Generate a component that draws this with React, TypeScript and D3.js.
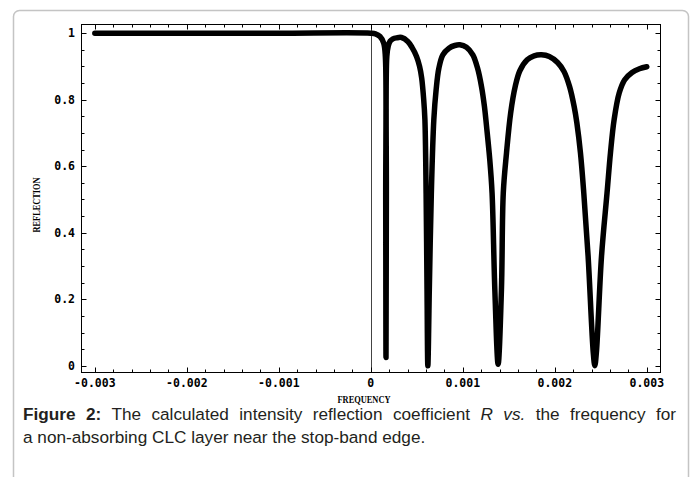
import React, { useEffect, useRef } from 'react';
import * as d3 from 'd3';

// frequency and intensity reflection coefficient
const freq = [
  -0.003, -0.002, -0.001, 0, 0.00005, 0.0001, 0.00014, 0.000158, 0.000162, 0.000165,
  0.000169, 0.000174, 0.00019, 0.00021, 0.00024, 0.00028, 0.000334, 0.000402, 0.000446,
  0.000497, 0.00053, 0.000553, 0.000575, 0.000588, 0.000601, 0.000611, 0.00062,
  0.000636, 0.000658, 0.000685, 0.00071, 0.00074, 0.000783, 0.00085, 0.000913, 0.000967,
  0.00104, 0.001109, 0.00116, 0.001203, 0.001235, 0.001258, 0.001293, 0.001318,
  0.001348, 0.001384, 0.00142, 0.00144, 0.001475, 0.00152, 0.00157, 0.00162, 0.0017,
  0.001775, 0.001855, 0.00194, 0.00203, 0.0021, 0.00216, 0.00221, 0.00224, 0.002279,
  0.002315, 0.002362, 0.002418, 0.002435, 0.002452, 0.002508, 0.002568, 0.002605,
  0.002645, 0.0027, 0.00276, 0.00284, 0.00292, 0.003,
];
const reflection = [
  1.0, 1.0, 1.0, 1.0, 0.998, 0.99, 0.97, 0.93, 0.5, 0.025,
  0.5, 0.93, 0.962, 0.976, 0.983, 0.986, 0.987, 0.975, 0.958,
  0.93, 0.9, 0.865, 0.8, 0.74, 0.52, 0.23, 0.0,
  0.23, 0.52, 0.74, 0.83, 0.895, 0.935, 0.955, 0.963, 0.965,
  0.958, 0.935, 0.895, 0.84, 0.78, 0.72, 0.62, 0.52,
  0.23, 0.005, 0.23, 0.52, 0.64, 0.76, 0.84, 0.887, 0.92,
  0.932, 0.935, 0.93, 0.912, 0.885, 0.84, 0.78, 0.73, 0.64,
  0.52, 0.33, 0.04, 0.0, 0.04, 0.33, 0.52, 0.64,
  0.74, 0.82, 0.86, 0.882, 0.893, 0.899,
];

const xTicks = [-0.003, -0.002, -0.001, 0, 0.001, 0.002, 0.003];
const xTickLabels = ['-0.003', '-0.002', '-0.001', '0', '0.001', '0.002', '0.003'];
const yTicks = [0, 0.2, 0.4, 0.6, 0.8, 1];
const yTickLabels = ['0', '0.2', '0.4', '0.6', '0.8', '1'];

export default function App() {
  const svgRef = useRef<SVGSVGElement | null>(null);

  useEffect(() => {
    if (!svgRef.current) return;
    const width = 695;
    const height = 477;
    const frame = { left: 81.5, right: 660.5, top: 24.5, bottom: 372.5 };

    const svg = d3.select(svgRef.current);
    svg.selectAll('*').remove();
    svg.attr('width', width).attr('height', height);

    svg.append('rect').attr('width', width).attr('height', height).attr('fill', '#fff');

    // card border
    svg.append('rect')
      .attr('x', 13.5).attr('y', 10.5)
      .attr('width', 675).attr('height', 520)
      .attr('rx', 6)
      .attr('fill', 'none')
      .attr('stroke', '#c4c4c4')
      .attr('stroke-width', 1.5);

    const x = d3.scaleLinear().domain([-0.003145, 0.003149]).range([frame.left, frame.right]);
    const y = d3.scaleLinear().domain([-0.0201, 1.0261]).range([frame.bottom, frame.top]);

    const g = svg.append('g');

    // zero line
    g.append('line')
      .attr('x1', Math.round(x(0)) + 0.5).attr('x2', Math.round(x(0)) + 0.5)
      .attr('y1', frame.top).attr('y2', frame.bottom)
      .attr('stroke', '#444').attr('stroke-width', 1);

    // frame
    g.append('rect')
      .attr('x', frame.left).attr('y', frame.top)
      .attr('width', frame.right - frame.left).attr('height', frame.bottom - frame.top)
      .attr('fill', 'none').attr('stroke', '#000').attr('stroke-width', 1);

    // ticks on all four sides, pointing inward
    const xMinor = d3.range(-15, 16).map(i => i * 0.0002);
    xMinor.forEach((v, i) => {
      const major = i % 5 === 0;
      const len = major ? 5 : 3;
      const px = Math.round(x(v)) + 0.5;
      g.append('line').attr('x1', px).attr('x2', px)
        .attr('y1', frame.bottom).attr('y2', frame.bottom - len)
        .attr('stroke', '#000');
      g.append('line').attr('x1', px).attr('x2', px)
        .attr('y1', frame.top).attr('y2', frame.top + len)
        .attr('stroke', '#000');
    });
    const yMinor = d3.range(0, 21).map(i => i * 0.05);
    yMinor.forEach((v, i) => {
      const major = i % 4 === 0;
      const len = major ? 5 : 3;
      const py = Math.round(y(v)) + 0.5;
      g.append('line').attr('x1', frame.left).attr('x2', frame.left + len)
        .attr('y1', py).attr('y2', py).attr('stroke', '#000');
      g.append('line').attr('x1', frame.right).attr('x2', frame.right - len)
        .attr('y1', py).attr('y2', py).attr('stroke', '#000');
    });

    // tick labels
    const tickFont = 'DejaVu Sans Mono, monospace';
    xTicks.forEach((v, i) => {
      g.append('text')
        .attr('x', x(v)).attr('y', 387)
        .attr('text-anchor', 'middle')
        .attr('font-family', tickFont).attr('font-size', 11.5).attr('font-weight', 'bold')
        .text(xTickLabels[i]);
    });
    yTicks.forEach((v, i) => {
      g.append('text')
        .attr('x', 75).attr('y', y(v) + 4)
        .attr('text-anchor', 'end')
        .attr('font-family', tickFont).attr('font-size', 11.5).attr('font-weight', 'bold')
        .text(yTickLabels[i]);
    });

    // axis labels
    g.append('text')
      .attr('x', 364).attr('y', 403)
      .attr('text-anchor', 'middle')
      .attr('font-family', 'Liberation Serif, serif').attr('font-size', 10).attr('font-weight', 'bold')
      .attr('textLength', 53).attr('lengthAdjust', 'spacingAndGlyphs')
      .text('FREQUENCY');
    g.append('text')
      .attr('transform', 'translate(40,205) rotate(-90)')
      .attr('text-anchor', 'middle')
      .attr('font-family', 'Liberation Serif, serif').attr('font-size', 10).attr('font-weight', 'bold')
      .attr('textLength', 55).attr('lengthAdjust', 'spacingAndGlyphs')
      .text('REFLECTION');

    // curve
    const pts: [number, number][] = freq.map((f, i) => [f, reflection[i]]);
    const line = d3.line<[number, number]>()
      .x(d => x(d[0]))
      .y(d => y(d[1]))
      .curve(d3.curveCatmullRom.alpha(0.5));
    g.append('path')
      .attr('d', line(pts))
      .attr('fill', 'none')
      .attr('stroke', '#000')
      .attr('stroke-width', 5.5)
      .attr('stroke-linejoin', 'round')
      .attr('stroke-linecap', 'round');

    // caption (first line justified to the card width)
    const cap = svg.append('text')
      .attr('font-family', 'Liberation Sans, Arial, sans-serif')
      .attr('font-size', 17.2)
      .attr('fill', '#231f20');
    const l1 = cap.append('tspan').attr('x', 23).attr('y', 420);
    l1.append('tspan').attr('font-weight', 'bold').text('Figure 2:');
    l1.append('tspan').text(' The calculated intensity reflection coefficient ');
    l1.append('tspan').attr('font-style', 'italic').text('R vs.');
    l1.append('tspan').text(' the frequency for');
    cap.append('tspan').attr('x', 23).attr('y', 443)
      .text('a non-absorbing CLC layer near the stop-band edge.');

    const l1Node = l1.node() as SVGTSpanElement | null;
    if (l1Node && l1Node.getComputedTextLength) {
      const len = l1Node.getComputedTextLength();
      const extra = (653 - len) / 11;
      if (extra > 0) l1.attr('word-spacing', extra);
    }
  }, []);

  return (
    <div style={{ position: 'absolute', left: 0, top: 0 }}>
      <svg ref={svgRef} style={{ display: 'block' }}></svg>
    </div>
  );
}
